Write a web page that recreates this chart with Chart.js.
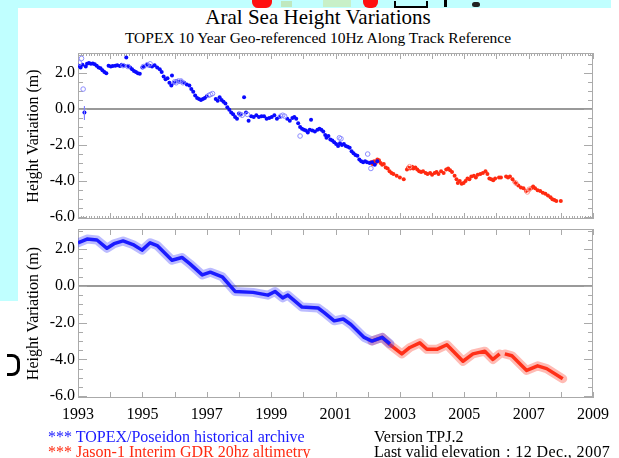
<!DOCTYPE html>
<html>
<head>
<meta charset="utf-8">
<title>Aral Sea Height Variations</title>
<script src="https://cdn.jsdelivr.net/npm/chart.js@4.4.1/dist/chart.umd.min.js"></script>
<style>
  html, body { margin: 0; padding: 0; background: #fff; }
  #page { position: relative; width: 619px; height: 458px; overflow: hidden; font-family: "Liberation Serif", "DejaVu Serif", serif; color: #000; }
  .strip { position: absolute; background: #c0ffff; }
  .blob { position: absolute; }
  canvas { position: absolute; left: 0; }
  .txt { position: absolute; white-space: pre; line-height: 1; }
</style>
</head>
<body>
<div id="page">
  <!-- background of the host page -->
  <div class="strip" style="left:0;top:0;width:611px;height:8px"></div>
  <div class="strip" style="left:0;top:0;width:18px;height:301px"></div>
  <div class="blob" style="left:252px;top:0;width:20px;height:8px;background:#ff1010;border-radius:0 0 6px 6px"></div>
  <div class="blob" style="left:363px;top:0;width:15px;height:8px;background:#ff1010;border-radius:0 0 6px 6px"></div>
  <div class="blob" style="left:281px;top:1px;width:11px;height:6px;background:#bfe8bf"></div>
  <div class="blob" style="left:323px;top:0;width:28px;height:7px;background:#c8f0c8"></div>
  <div class="blob" style="left:394px;top:1px;width:30px;height:5px;border:2px solid #000;border-top:none"></div>
  <div class="blob" style="left:444px;top:0;width:10px;height:7px;border-left:3px solid #000"></div>
  <div class="blob" style="left:472px;top:2px;width:8px;height:5px;background:#222;border-radius:3px"></div>
  <div class="blob" style="left:7px;top:354px;width:10px;height:16px;border:3px solid #000;border-left:none;border-radius:0 8px 8px 0"></div>

  <div class="txt" style="left:0;width:636px;top:7px;text-align:center;font-size:21px">Aral Sea Height Variations</div>
  <div class="txt" style="left:0;width:636px;top:30px;text-align:center;font-size:15.5px">TOPEX 10 Year Geo-referenced 10Hz Along Track Reference</div>

  <canvas id="topChart" width="619" height="240" style="top:0"></canvas>
  <canvas id="bottomChart" width="619" height="215" style="top:213px"></canvas>

  <div class="txt" style="left:48px;top:429px;font-size:16px;color:#1a1aff">*** TOPEX/Poseidon historical archive</div>
  <div class="txt" style="left:48px;top:444px;font-size:16px;color:#ff2a10">*** Jason-1 Interim GDR 20hz altimetry</div>
  <div class="txt" style="left:374px;top:429px;font-size:16px">Version TPJ.2</div>
  <div class="txt" style="left:374px;top:444px;font-size:16px">Last valid elevation</div>
  <div class="txt" style="left:506px;top:444px;font-size:16px;letter-spacing:0.4px">: 12 Dec., 2007</div>
</div>

<script>
// ---- data (decimal year, metres) ----
const yTicks = [-6, -4, -2, 0, 2];
const xTicks = [1993, 1995, 1997, 1999, 2001, 2003, 2005, 2007, 2009];

// upper panel: individual cycles
const topexYears = [1993.03, 1993.08, 1993.14, 1993.20, 1993.24, 1993.28, 1993.34, 1993.40, 1993.46, 1993.52, 1993.58, 1993.64, 1993.70, 1993.76, 1993.82, 1993.88, 1993.95,
  1994.02, 1994.08, 1994.16, 1994.22, 1994.30, 1994.36, 1994.44, 1994.50, 1994.56, 1994.62, 1994.68, 1994.74, 1994.80, 1994.86, 1994.92,
  1995.00, 1995.06, 1995.14, 1995.22, 1995.30, 1995.38, 1995.46, 1995.54, 1995.60, 1995.66, 1995.72, 1995.78, 1995.84, 1995.90, 1995.92, 1995.98,
  1996.06, 1996.14, 1996.22, 1996.30, 1996.38, 1996.46, 1996.52, 1996.58, 1996.64, 1996.70, 1996.76, 1996.82, 1996.88, 1996.94,
  1997.00, 1997.28, 1997.34, 1997.40, 1997.46, 1997.52, 1997.58, 1997.64, 1997.70, 1997.76, 1997.82, 1997.88, 1997.94,
  1998.00, 1998.06, 1998.16, 1998.22, 1998.30, 1998.38, 1998.46, 1998.54, 1998.62, 1998.70, 1998.78, 1998.86, 1998.94,
  1999.02, 1999.10, 1999.18, 1999.26, 1999.50, 1999.58, 1999.66, 1999.72, 1999.78, 1999.84, 1999.90, 1999.96,
  2000.02, 2000.08, 2000.14, 2000.20, 2000.24, 2000.28, 2000.36, 2000.44, 2000.50, 2000.56, 2000.62, 2000.68, 2000.72, 2000.78, 2000.84, 2000.90, 2000.96,
  2001.02, 2001.08, 2001.14, 2001.20, 2001.26, 2001.32, 2001.38, 2001.44, 2001.50, 2001.56, 2001.62, 2001.68, 2001.74, 2001.80, 2001.86, 2001.92, 2001.98,
  2002.06, 2002.14, 2002.22, 2002.30];
const topexHeights = [2.40, 2.30, 2.45, -0.20, 2.35, 2.50, 2.55, 2.50, 2.52, 2.48, 2.40, 2.30, 2.25, 2.15, 2.05, 1.98, 2.40,
  2.35, 2.38, 2.40, 2.42, 2.38, 2.45, 2.40, 2.85, 2.38, 2.30, 2.20, 2.10, 2.05, 1.98, 1.95,
  2.30, 2.35, 2.45, 2.40, 2.35, 2.42, 2.30, 2.20, 2.05, 1.80, 1.65, 1.70, 1.45, 1.30, 1.85, 1.45,
  1.55, 1.50, 1.52, 1.45, 1.35, 1.30, 1.10, 0.95, 0.75, 0.60, 0.55, 0.50, 0.55, 0.60,
  0.70, 0.55, 0.45, 0.65, 0.50, 0.40, 0.30, 0.10, -0.05, -0.20, -0.30, -0.45, -0.55,
  -0.25, -0.30, 0.65, -0.20, -0.65, -0.40, -0.45, -0.35, -0.45, -0.40, -0.40, -0.55, -0.50,
  -0.45, -0.35, -0.55, -0.45, -0.55, -0.65, -0.50, -0.45, -0.55, -0.80, -1.00, -1.10,
  -1.15, -1.20, -1.30, -1.15, -0.60, -1.20, -1.25, -1.15, -1.10, -1.15, -1.25, -1.45, -1.60, -1.50, -1.70, -1.75, -1.85,
  -1.95, -2.05, -1.90, -2.00, -1.95, -2.05, -2.10, -2.15, -2.35, -2.45, -2.55, -2.60, -2.80, -2.90, -2.95, -2.90, -2.95,
  -3.00, -2.95, -3.10, -2.90];

const topexFlagYears = [1993.05, 1993.11, 1993.16, 1994.40, 1994.55, 1995.03, 1995.15, 1995.24, 1996.00, 1996.05, 1996.12, 1996.20, 1996.26,
  1997.06, 1997.12, 1997.18, 1998.04, 1998.10, 1998.26, 1999.30, 1999.36, 1999.42, 1999.90, 2001.12, 2001.17, 2002.00, 2002.10];
const topexFlagHeights = [2.55, 2.80, 1.10, 2.40, 2.35, 2.35, 2.45, 2.50, 1.50, 1.45, 1.55, 1.55, 1.45,
  0.75, 0.80, 0.85, -0.30, -0.35, -0.30, -0.40, -0.35, -0.40, -1.50, -1.60, -1.65, -2.50, -3.30];

const errYears = [1993.20, 1993.20];
const errHeights = [0.15, -0.60];

const jasonYears = [2002.10, 2002.15, 2002.20, 2002.25, 2002.30, 2002.35, 2002.40, 2002.45, 2002.50, 2002.56, 2002.62, 2002.68, 2002.74, 2002.80, 2002.90,
  2003.00, 2003.12, 2003.22, 2003.26, 2003.32, 2003.38, 2003.42, 2003.48, 2003.54, 2003.60, 2003.66, 2003.72, 2003.80, 2003.86, 2003.94,
  2004.00, 2004.08, 2004.14, 2004.20, 2004.28, 2004.36, 2004.44, 2004.50, 2004.56, 2004.62, 2004.70, 2004.76, 2004.80, 2004.86, 2004.92, 2004.98,
  2005.04, 2005.10, 2005.16, 2005.22, 2005.30, 2005.36, 2005.42, 2005.50, 2005.58, 2005.66, 2005.72, 2005.78, 2005.84, 2005.90, 2005.96,
  2006.08, 2006.14, 2006.30, 2006.36, 2006.42, 2006.50, 2006.56, 2006.62, 2006.68, 2006.76, 2006.84, 2006.92,
  2007.00, 2007.08, 2007.14, 2007.20, 2007.28, 2007.36, 2007.44, 2007.52, 2007.60, 2007.68, 2007.74, 2007.80, 2007.86, 2008.00];
const jasonHeights = [-2.95, -3.05, -2.90, -3.00, -2.80, -2.85, -3.00, -3.10, -3.05, -3.25, -3.30, -3.45, -3.55, -3.60, -3.70,
  -3.80, -3.90, -3.35, -3.25, -3.30, -3.20, -3.30, -3.25, -3.35, -3.45, -3.50, -3.45, -3.55, -3.60, -3.55,
  -3.65, -3.55, -3.50, -3.60, -3.45, -3.55, -3.35, -3.30, -3.40, -3.50, -3.70, -3.90, -4.10, -4.00, -4.15, -4.10,
  -4.00, -3.85, -3.90, -3.75, -3.70, -3.80, -3.65, -3.60, -3.55, -3.45, -3.60, -3.85, -3.90, -3.95, -3.85,
  -3.80, -3.80, -3.75, -3.80, -3.75, -3.90, -4.05, -4.15, -4.25, -4.35, -4.40, -4.55,
  -4.50, -4.40, -4.30, -4.40, -4.50, -4.55, -4.65, -4.70, -4.80, -4.90, -5.00, -5.05, -5.10, -5.10];

const jasonFlagYears = [2003.30, 2006.60, 2006.96, 2007.02];
const jasonFlagHeights = [-3.20, -4.10, -4.60, -4.45];

// lower panel: smoothed record (null = data gap)
const topexSmoothYears = [1993.00, 1993.28, 1993.59, 1993.90, 1994.12, 1994.40, 1994.71, 1994.99, 1995.24, 1995.46, 1995.92, 1996.23, 1996.48, 1996.86,
  1997.11, 1997.48, 1997.88, 1998.44, 1998.90, 1999.12, 1999.36, 1999.52, 1999.96, 2000.46, 2000.65, 2000.96, 2001.24, 2001.48, 2001.89, 2002.13, 2002.45, 2002.69];
const topexSmoothHeights = [2.35, 2.55, 2.50, 2.05, 2.30, 2.45, 2.25, 1.95, 2.35, 2.20, 1.40, 1.55, 1.20, 0.60,
  0.75, 0.50, -0.30, -0.35, -0.50, -0.30, -0.65, -0.50, -1.15, -1.20, -1.45, -1.90, -1.80, -2.10, -2.80, -3.00, -2.80, -3.15];

const jasonSmoothYears = [2002.13, 2002.45, 2002.69, 2003.06, 2003.31, 2003.62, 2003.84, 2004.15, 2004.46, 2004.96, 2005.27, 2005.64, 2005.89, 2006.10,
  2006.18, 2006.26, 2006.48, 2006.94, 2007.28, 2007.56, 2008.06];
const jasonSmoothHeights = [-3.00, -2.80, -3.20, -3.70, -3.35, -3.10, -3.45, -3.45, -3.20, -4.10, -3.70, -3.55, -4.00, -3.70,
  null, -3.70, -3.80, -4.60, -4.35, -4.50, -5.05];

// ---- styling ----
const BLUE = '#0a0aff';
const RED = '#ff2a10';
const FONT = { family: '"Liberation Serif", "DejaVu Serif", serif', size: 16 };

const pts = (xs, ys) => xs.map((x, i) => ({ x, y: ys[i] }));

// IDL-style frame: grey box, inward ticks on all four sides, zero line
const framePlugin = {
  id: 'frame',
  beforeDatasetsDraw(chart, args, opts) {
    const { ctx, chartArea: a, scales: { x, y } } = chart;
    ctx.save();
    ctx.strokeStyle = '#999';
    ctx.lineWidth = 2;
    const y0 = Math.round(y.getPixelForValue(0));
    ctx.beginPath();
    ctx.moveTo(a.left, y0);
    ctx.lineTo(a.right, y0);
    ctx.stroke();

    ctx.strokeStyle = '#aaa';
    ctx.lineWidth = 1;
    ctx.strokeRect(a.left + 0.5, a.top + 0.5, a.right - a.left - 1, a.bottom - a.top - 1);

    ctx.beginPath();
    for (let v = -6; v <= 3; v += 0.5) {
      const py = Math.round(y.getPixelForValue(v)) + 0.5;
      if (py < a.top || py > a.bottom) continue;
      const len = v % 2 === 0 ? 9 : 5;
      ctx.moveTo(a.left, py); ctx.lineTo(a.left + len, py);
      ctx.moveTo(a.right, py); ctx.lineTo(a.right - len, py);
    }
    const step = opts.monthly ? 1 / 12 : 1;
    for (let k = 0; 1993 + k * step <= 2009.001; k++) {
      const v = 1993 + k * step;
      const px = Math.round(x.getPixelForValue(v)) + 0.5;
      const year = opts.monthly ? k % 12 === 0 : true;
      const len = year ? 6 : 3;
      ctx.moveTo(px, a.top); ctx.lineTo(px, a.top + len);
      ctx.moveTo(px, a.bottom); ctx.lineTo(px, a.bottom - len);
    }
    ctx.stroke();
    ctx.restore();
  }
};

function yScale() {
  return {
    min: -6.1,
    max: 3.1,
    afterBuildTicks: s => { s.ticks = yTicks.map(value => ({ value })); },
    afterFit: s => { s.width = 54; },
    grid: { display: false, drawTicks: false },
    border: { display: false },
    ticks: { font: FONT, color: '#000', padding: 3, callback: v => v.toFixed(1) },
    title: { display: true, text: 'Height Variation (m)', color: '#000', font: { family: FONT.family, size: 16 }, padding: 0 }
  };
}

function xScale(showLabels) {
  const s = {
    type: 'linear',
    min: 1993,
    max: 2009,
    display: showLabels,
    afterBuildTicks: sc => { sc.ticks = xTicks.map(value => ({ value })); },
    grid: { display: false, drawTicks: false },
    border: { display: false },
    ticks: { font: FONT, color: '#000', padding: 7, maxRotation: 0, autoSkip: false, callback: v => String(v) }
  };
  if (showLabels) s.afterFit = sc => { sc.height = 30; };
  return s;
}

const common = {
  responsive: false,
  animation: false,
  devicePixelRatio: 1,
  plugins: { legend: { display: false }, tooltip: { enabled: false } }
};

// upper panel: chart area 78..593 x 53..219
new Chart(document.getElementById('topChart'), {
  type: 'scatter',
  data: {
    datasets: [
      { data: pts(errYears, errHeights), showLine: true, borderColor: '#8080ff', borderWidth: 1, pointRadius: 0 },
      { data: pts(topexFlagYears, topexFlagHeights), pointRadius: 2.3, borderWidth: 1, borderColor: '#8c8cff', backgroundColor: 'rgba(255,255,255,0)' },
      { data: pts(topexYears, topexHeights), pointRadius: 2, borderWidth: 0, backgroundColor: BLUE },
      { data: pts(jasonFlagYears, jasonFlagHeights), pointRadius: 2.3, borderWidth: 1, borderColor: '#ff9a90', backgroundColor: 'rgba(255,255,255,0)' },
      { data: pts(jasonYears, jasonHeights), pointRadius: 2, borderWidth: 0, backgroundColor: RED }
    ]
  },
  options: {
    ...common,
    layout: { padding: { left: 24, right: 26, top: 53, bottom: 21 } },
    scales: { x: xScale(false), y: yScale() },
    plugins: { ...common.plugins, frame: { monthly: true } }
  },
  plugins: [framePlugin]
});

// lower panel: wide pale stroke under a narrow solid one gives the banded look
const band = (xs, ys, wide, core) => [
  { data: pts(xs, ys), showLine: true, spanGaps: false, borderColor: wide, borderWidth: 9, pointRadius: 0, borderJoinStyle: 'round', borderCapStyle: 'round' },
  { data: pts(xs, ys), showLine: true, spanGaps: false, borderColor: core, borderWidth: 3.5, pointRadius: 0, borderJoinStyle: 'round' }
];

// chart area 78..593 x 229..397 (canvas starts at 213)
new Chart(document.getElementById('bottomChart'), {
  type: 'scatter',
  data: {
    datasets: [
      ...band(topexSmoothYears, topexSmoothHeights, 'rgba(60,60,255,0.35)', BLUE),
      ...band(jasonSmoothYears, jasonSmoothHeights, 'rgba(255,60,40,0.35)', RED)
    ]
  },
  options: {
    ...common,
    layout: { padding: { left: 24, right: 26, top: 16, bottom: 0 } },
    scales: { x: xScale(true), y: yScale() },
    plugins: { ...common.plugins, frame: { monthly: false } }
  },
  plugins: [framePlugin]
});
</script>
</body>
</html>
